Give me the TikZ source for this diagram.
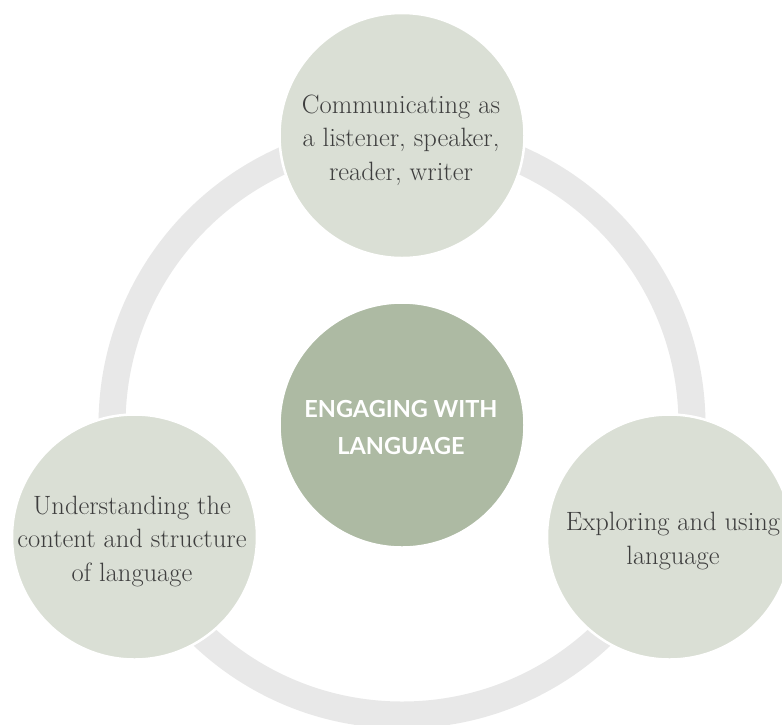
\documentclass[tikz,border=0pt]{standalone}
\usepackage{fontspec}
\newfontfamily\centerfont{Lato}
\definecolor{ringgrey}{HTML}{E8E8E8}
\definecolor{outerfill}{HTML}{DADFD5}
\definecolor{centerfill}{HTML}{ADBAA3}
\definecolor{txt}{HTML}{3E3E3E}
\begin{document}
\begin{tikzpicture}[x=1pt,y=-1pt,
  outercircle/.style={circle, fill=outerfill, draw=white, line width=2.5pt, minimum size=245pt, inner sep=0pt},
  centercircle/.style={circle, fill=centerfill, draw=white, line width=2.5pt, minimum size=245pt, inner sep=0pt},
  outertext/.style={align=center, text=txt, font=\fontsize{26.5}{33.5}\selectfont},
  centertext/.style={align=center, text=white, font=\centerfont\bfseries\fontsize{23.5}{37}\selectfont}]
\useasboundingbox (0,0) rectangle (782,724);
\fill[white] (0,0) rectangle (782,724);
\coordinate (ringc) at (402,425);
\draw[ringgrey, line width=27pt] (ringc) circle[radius=290];
\node[centercircle] (center) at (402,425) {};
\node[outercircle] (top) at (402,135.5) {};
\node[outercircle] (left) at (134.5,537) {};
\node[outercircle] (right) at (669.5,537) {};
\node[centertext] (centerlabel) at (401,427) {ENGAGING WITH\\LANGUAGE};
\node[outertext] (toplabel) at (401,140) {Communicating as\\a listener, speaker,\\reader, writer};
\node[outertext] (leftlabel) at (132,541) {Understanding the\\content and structure\\of language};
\node[outertext] (rightlabel) at (673,541) {Exploring and using\\language};
\end{tikzpicture}
\end{document}
